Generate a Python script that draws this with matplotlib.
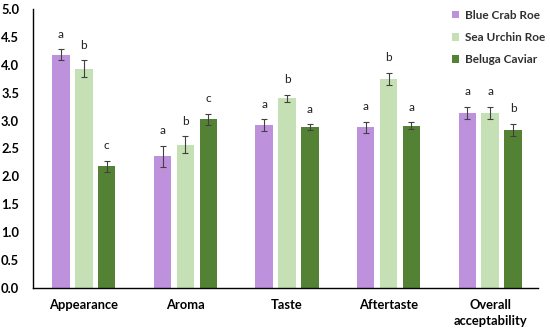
import numpy as np
import matplotlib.pyplot as plt

plt.rcParams['font.family'] = ['Lato', 'DejaVu Sans']

categories = ["Appearance", "Aroma", "Taste", "Aftertaste", "Overall\nacceptability"]
series = ["Blue Crab Roe", "Sea Urchin Roe", "Beluga Caviar"]
colors = ["#BE91DC", "#C5E0B4", "#548235"]

means = [
    [4.18, 2.36, 2.92, 2.88, 3.14],
    [3.93, 2.57, 3.40, 3.75, 3.14],
    [2.18, 3.02, 2.88, 2.91, 2.83],
]
errors = [
    [0.10, 0.19, 0.10, 0.10, 0.11],
    [0.15, 0.15, 0.06, 0.11, 0.11],
    [0.10, 0.10, 0.05, 0.06, 0.11],
]
letters = [
    ["a", "a", "a", "a", "a"],
    ["b", "b", "b", "b", "a"],
    ["c", "c", "a", "a", "b"],
]

fig = plt.figure(figsize=(5.5, 3.34), dpi=100)
ax = fig.add_axes([0.06, 0.138, 0.918, 0.835])

x = np.arange(len(categories))
width = 0.172
offsets = [-0.225, 0.0, 0.225]

for i, name in enumerate(series):
    ax.bar(x + offsets[i], means[i], width, color=colors[i], label=name,
           yerr=errors[i], capsize=2.2,
           error_kw=dict(ecolor="#404040", elinewidth=0.8, capthick=0.8))
    for j in range(len(categories)):
        ax.text(x[j] + offsets[i], means[i][j] + errors[i][j] + 0.27, letters[i][j],
                ha="center", va="center", fontsize=8.5, color="#202020")

ax.set_xlim(-0.5, 4.47)
ax.set_ylim(0, 5.0)
ax.set_yticks(np.arange(0, 5.01, 0.5))
ax.set_yticklabels([f"{v:.1f}" for v in np.arange(0, 5.01, 0.5)],
                   fontsize=9.3, fontweight="bold")
ax.set_xticks(x)
ax.set_xticklabels(categories, fontsize=9.3, fontweight="bold", linespacing=1.35)
ax.tick_params(axis="x", length=0, pad=8)
ax.tick_params(axis="y", length=0, pad=10)

for s in ["top", "right"]:
    ax.spines[s].set_visible(False)
for s in ["left", "bottom"]:
    ax.spines[s].set_color("black")
    ax.spines[s].set_linewidth(1.0)

leg = ax.legend(loc="upper right", bbox_to_anchor=(1.035, 1.035), frameon=False,
                handlelength=0.6, handleheight=0.6, handletextpad=0.5,
                labelspacing=0.95, prop=dict(size=8.5, weight="bold"))
for t in leg.get_texts():
    t.set_color("#303030")

fig.savefig("out.png", dpi=100)
